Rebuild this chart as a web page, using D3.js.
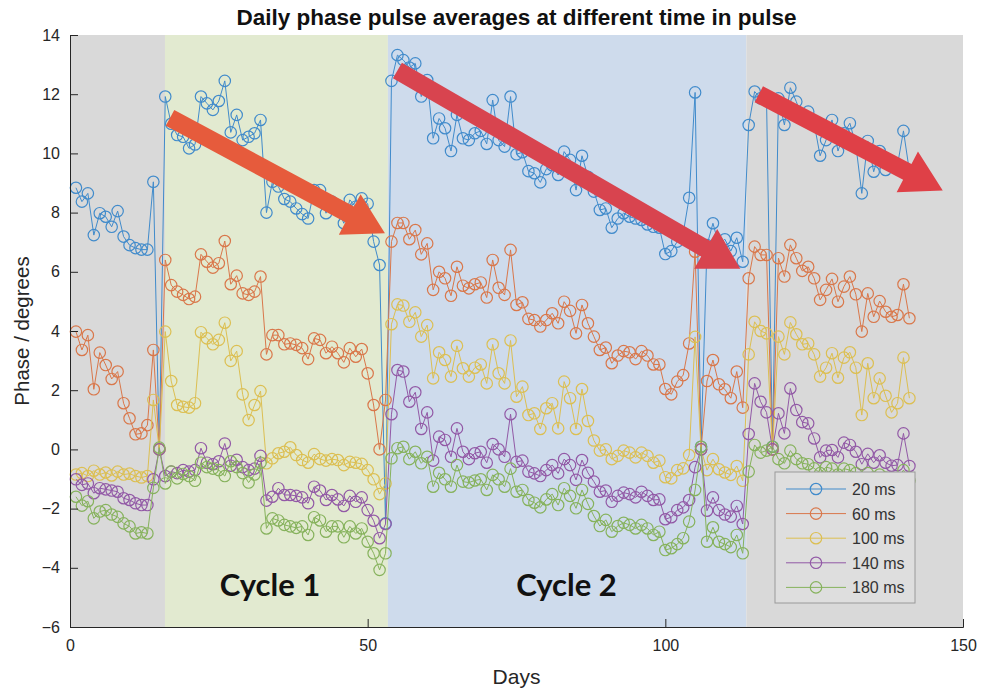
<!DOCTYPE html>
<html>
<head>
<meta charset="utf-8">
<script src="https://cdn.jsdelivr.net/npm/d3@7"></script>
<style>
  body { margin: 0; background: #fff; }
  svg { display: block; font-family: "Liberation Sans", Arial, sans-serif; }
</style>
</head>
<body>
<div id="chart"></div>
<script>
// day index of each daily average
const days = d3.range(1, 142);

const ms20 = [8.84, 8.37, 8.65, 7.24, 7.98, 7.86, 7.52, 8.05, 7.19, 6.9,
  6.8, 6.75, 6.75, 9.04, 0.0, 11.92, 11.0, 10.62, 10.56, 10.17,
  10.3, 11.92, 11.69, 11.47, 11.77, 12.45, 10.71, 11.3, 10.45, 10.56,
  10.68, 11.13, 8.0, 9.04, 8.88, 8.46, 8.37, 8.14, 7.95, 7.8,
  8.76, 8.76, 7.98, 8.37, 8.1, 7.64, 8.43, 8.2, 8.48, 8.3,
  7.02, 6.23, -2.5, 12.45, 13.32, 13.15, 12.9, 13.04, 11.92, 12.48,
  10.51, 11.18, 10.85, 10.08, 11.3, 10.51, 10.45, 10.68, 10.76, 10.32,
  11.8, 10.45, 10.23, 11.92, 9.97, 10.04, 9.4, 9.33, 9.02, 9.47,
  9.6, 9.27, 10.06, 9.78, 8.76, 9.92, 9.21, 8.71, 8.09, 8.14,
  7.49, 7.8, 7.98, 7.86, 7.8, 7.75, 7.6, 7.52, 7.49, 6.6,
  6.7, 7.02, 7.3, 8.5, 12.06, 0.09, 6.9, 7.64, 6.9, 7.1,
  6.7, 7.15, 6.34, 10.96, 12.09, 11.86, 11.8, 0.09, 11.86, 10.96,
  12.22, 11.75, 11.19, 11.41, 11.0, 9.92, 10.45, 11.13, 10.08, 10.68,
  11.02, 10.28, 8.65, 10.42, 9.38, 10.08, 9.44, 9.7, 9.61, 10.76, 9.4];

const ms60 = [3.98, 3.36, 3.86, 2.03, 3.27, 2.85, 2.38, 2.63, 1.56, 1.05,
  0.51, 0.54, 0.82, 3.36, 0.0, 6.4, 5.55, 5.33, 5.22, 5.08,
  5.16, 6.59, 6.34, 6.14, 6.29, 7.04, 5.58, 5.87, 5.27, 5.22,
  5.33, 5.84, 3.21, 3.86, 3.86, 3.55, 3.58, 3.53, 3.42, 3.05,
  3.75, 3.7, 3.25, 3.47, 3.25, 2.94, 3.42, 3.13, 3.39, 2.57,
  1.5, 0.0, 1.67, 7.02, 7.65, 7.65, 7.1, 7.41, 6.59, 6.96,
  5.39, 6.0, 5.78, 5.19, 6.17, 5.53, 5.44, 5.58, 5.64, 5.13,
  6.4, 5.46, 5.22, 6.74, 4.88, 4.97, 4.41, 4.37, 4.15, 4.37,
  4.6, 4.26, 4.99, 4.68, 3.92, 4.88, 4.26, 3.81, 3.36, 3.44,
  2.91, 3.17, 3.32, 3.28, 3.05, 3.32, 3.17, 2.87, 2.87, 2.04,
  1.86, 2.29, 2.51, 3.58, 6.68, 0.0, 2.31, 3.02, 2.2, 2.03,
  1.73, 2.63, 1.41, 5.78, 6.85, 6.57, 6.57, 0.0, 6.46, 5.84,
  6.91, 6.46, 6.03, 6.17, 5.78, 5.05, 5.39, 5.76, 4.99, 5.5,
  5.84, 5.24, 3.98, 5.27, 4.48, 5.01, 4.65, 4.48, 4.54, 5.58, 4.43];

const ms100 = [-0.85, -0.8, -0.9, -0.72, -0.85, -0.78, -0.88, -0.75, -0.85, -0.82,
  -0.9, -0.95, -0.9, 1.67, 0.0, 3.98, 2.31, 1.5, 1.44, 1.41,
  1.56, 3.96, 3.75, 3.55, 3.7, 4.28, 2.99, 3.32, 1.86, 0.99,
  1.5, 1.97, -0.47, -0.3, -0.13, -0.08, 0.07, -0.19, -0.36, -0.45,
  -0.16, -0.33, -0.38, -0.33, -0.36, -0.53, -0.42, -0.45, -0.49, -0.7,
  -1.01, -1.51, -1.15, 4.23, 4.9, 4.86, 4.31, 4.63, 3.81, 4.2,
  2.4, 3.28, 3.02, 2.46, 3.5, 2.74, 2.46, 2.76, 2.87, 2.23,
  3.55, 2.57, 2.23, 3.68, 1.78, 2.12, 1.16, 1.22, 0.69, 1.39,
  1.56, 0.71, 2.29, 1.73, 0.69, 2.04, 0.96, 0.3, -0.04, 0.0,
  -0.33, -0.22, -0.04, -0.11, -0.27, -0.11, -0.22, -0.45, -0.38, -0.94,
  -0.98, -0.7, -0.64, -0.19, 3.8, 0.0, -0.7, -0.33, -0.67, -0.78,
  -0.86, -0.56, -1.06, 3.21, 4.31, 4.0, 3.92, 0.0, 3.81, 3.21,
  4.29, 3.89, 3.55, 3.58, 3.21, 2.46, 2.76, 3.25, 2.42, 3.1,
  3.28, 2.76, 1.16, 2.91, 1.73, 2.4, 1.81, 1.25, 1.56, 3.1, 1.73];

const ms140 = [-1.01, -1.2, -1.15, -1.48, -1.31, -1.35, -1.39, -1.43, -1.65, -1.71,
  -1.82, -1.88, -1.88, -1.01, 0.0, -0.9, -0.75, -0.8, -0.7, -0.75,
  -0.7, 0.04, -0.45, -0.5, -0.4, 0.2, -0.55, -0.35, -0.6, -0.7,
  -0.65, -0.22, -1.73, -1.6, -1.31, -1.54, -1.54, -1.57, -1.62, -1.82,
  -1.26, -1.39, -1.71, -1.54, -1.69, -1.91, -1.57, -1.77, -1.62, -2.05,
  -2.41, -3.0, -2.52, 1.19, 2.68, 2.63, 1.61, 1.93, 0.69, 1.25,
  -0.38, 0.43, 0.32, -0.25, 0.71, -0.08, -0.33, -0.13, -0.08, -0.45,
  0.18, 0.0, -0.25, 1.19, -0.42, -0.38, -0.75, -0.81, -0.9, -0.7,
  -0.53, -0.81, -0.33, -0.53, -1.03, -0.36, -0.79, -1.09, -1.43, -1.39,
  -1.77, -1.57, -1.46, -1.51, -1.62, -1.43, -1.57, -1.71, -1.69, -2.36,
  -2.29, -2.05, -1.96, -1.71, -0.6, 0.0, -2.07, -1.62, -2.05, -2.2,
  -2.27, -1.91, -2.52, 0.52, 2.23, 1.61, 1.25, 0.0, 1.22, 0.54,
  2.06, 1.33, 0.92, 0.88, 0.37, -0.27, -0.04, -0.02, -0.27, 0.23,
  0.15, -0.08, -0.5, -0.15, -0.45, -0.2, -0.45, -0.55, -0.53, 0.54, -0.56];

const ms180 = [-1.6, -1.9, -1.75, -2.33, -2.1, -2.05, -2.2, -2.28, -2.5, -2.6,
  -2.84, -2.8, -2.84, -1.3, 0.06, -1.15, -0.75, -0.98, -0.83, -0.9,
  -1.06, -0.45, -0.6, -0.65, -0.7, -0.9, -0.4, -0.6, -0.8, -1.12,
  -0.85, -0.45, -2.67, -2.33, -2.4, -2.55, -2.6, -2.65, -2.6, -2.89,
  -2.29, -2.4, -2.78, -2.6, -2.6, -2.97, -2.6, -2.84, -2.67, -3.12,
  -3.51, -4.07, -3.51, -0.3, 0.04, 0.09, -0.33, -0.08, -0.47, -0.25,
  -1.26, -0.79, -1.01, -1.26, -0.53, -1.09, -1.12, -1.05, -1.01, -1.37,
  -0.86, -1.01, -1.26, -0.65, -1.43, -1.37, -1.71, -1.8, -1.96, -1.69,
  -1.51, -1.88, -1.31, -1.57, -1.99, -1.37, -1.84, -2.25, -2.59, -2.38,
  -2.78, -2.59, -2.48, -2.55, -2.67, -2.55, -2.67, -2.89, -2.78, -3.4,
  -3.34, -3.2, -3.0, -2.44, -1.37, 0.09, -3.12, -2.63, -3.12, -3.2,
  -3.3, -2.89, -3.51, -0.75, 0.15, -0.11, -0.04, 0.09, -0.33, -0.47,
  -0.04, -0.33, -0.47, -0.5, -0.64, -0.8, -0.6, -0.65, -0.85, -0.65,
  -0.7, -0.8, -1.0, -0.8, -0.95, -0.85, -0.95, -1.05, -1.0, -0.7, -1.05];

const seriesNames = ["20 ms", "60 ms", "100 ms", "140 ms", "180 ms"];
const seriesColors = ["#418bcb", "#d9774a", "#dcbf52", "#9259a6", "#86b25c"];

// shaded periods (days)
const bandStarts = [0, 15.95, 53.4, 113.6];
const bandEnds = [15.95, 53.4, 113.6, 150];
const bandColors = ["#d9d9d9", "#e2ead0", "#cedbec", "#d9d9d9"];

const cycleLabels = ["Cycle 1", "Cycle 2"];
const cycleDays = [33.6, 83.4];

// trend arrows: [day, value] at tail and at tip
const arrowStart = [[16.8, 11.2], [55.0, 12.8], [115.7, 12.0]];
const arrowEnd = [[52.9, 7.3], [112.6, 6.1], [146.6, 8.75]];
const arrowColors = ["#e65b3c", "#d8444f", "#df4047"];

const xTicks = [0, 50, 100, 150];
const yTicks = [-6, -4, -2, 0, 2, 4, 6, 8, 10, 12, 14];

const W = 983, H = 691;
const mg = { left: 70, right: 20, top: 35, bottom: 64 };

const svg = d3.select('#chart').append('svg')
  .attr('width', W)
  .attr('height', H);

const x = d3.scaleLinear().domain([0, 150]).range([mg.left, W - mg.right]);
const y = d3.scaleLinear().domain([-6, 14]).range([H - mg.bottom, mg.top]);

// background bands
svg.selectAll('.band')
  .data(bandStarts)
  .enter().append('rect')
  .attr('class', 'band')
  .attr('x', (d) => x(d))
  .attr('y', y(14))
  .attr('width', (d, i) => x(bandEnds[i]) - x(d))
  .attr('height', y(-6) - y(14))
  .style('fill', (d, i) => bandColors[i]);

// series
const allSeries = [ms20, ms60, ms100, ms140, ms180];
const line = d3.line()
  .x((d, i) => x(days[i]))
  .y((d) => y(d));

allSeries.forEach((vals, s) => {
  const g = svg.append('g').attr('class', 'series');
  g.append('path')
    .attr('d', line(vals))
    .style('fill', 'none')
    .style('stroke', seriesColors[s])
    .style('stroke-width', 1);
  g.selectAll('circle')
    .data(vals)
    .enter().append('circle')
    .attr('cx', (d, i) => x(days[i]))
    .attr('cy', (d) => y(d))
    .attr('r', 5.7)
    .style('fill', 'none')
    .style('stroke', seriesColors[s])
    .style('stroke-width', 1.2);
});

// arrows
function arrowPath (p0, p1) {
  const x0 = x(p0[0]), y0 = y(p0[1]), x1 = x(p1[0]), y1 = y(p1[1]);
  const len = Math.hypot(x1 - x0, y1 - y0);
  const ux = (x1 - x0) / len, uy = (y1 - y0) / len;
  const nx = -uy, ny = ux;
  const sw = 9, hw = 23, hl = 40;
  const bx = x1 - ux * hl, by = y1 - uy * hl;
  const pts = [
    [x0 + nx * sw, y0 + ny * sw],
    [bx + nx * sw, by + ny * sw],
    [bx + nx * hw, by + ny * hw],
    [x1, y1],
    [bx - nx * hw, by - ny * hw],
    [bx - nx * sw, by - ny * sw],
    [x0 - nx * sw, y0 - ny * sw]
  ];
  return 'M' + pts.map((p) => p.join(',')).join('L') + 'Z';
}

svg.selectAll('.arrow')
  .data(arrowStart)
  .enter().append('path')
  .attr('class', 'arrow')
  .attr('d', (d, i) => arrowPath(d, arrowEnd[i]))
  .style('fill', (d, i) => arrowColors[i]);

// cycle labels
svg.selectAll('.cycle')
  .data(cycleLabels)
  .enter().append('text')
  .attr('class', 'cycle')
  .attr('x', (d, i) => x(cycleDays[i]))
  .attr('y', y(-4.95))
  .text((d) => d)
  .style('text-anchor', 'middle')
  .style('font-family', 'Lato, "Open Sans", sans-serif')
  .style('font-weight', 'bold')
  .style('font-size', '31px')
  .style('fill', '#111');

// axes
const xAxis = d3.axisBottom(x).tickValues(xTicks).tickSize(-8).tickPadding(13);
const yAxis = d3.axisLeft(y).tickValues(yTicks).tickSize(-8).tickPadding(10);

const gx = svg.append('g')
  .attr('transform', `translate(0,${y(-6)})`)
  .call(xAxis);
const gy = svg.append('g')
  .attr('transform', `translate(${x(0)},0)`)
  .call(yAxis);

[gx, gy].forEach((g) => {
  g.select('.domain').style('stroke', '#262626');
  g.selectAll('.tick line').style('stroke', '#262626');
  g.selectAll('.tick text')
    .style('font-size', '16px')
    .style('font-family', '"Liberation Sans", Arial, sans-serif')
    .style('fill', '#262626');
});

// titles
svg.append('text')
  .attr('x', (x(0) + x(150)) / 2)
  .attr('y', 25)
  .text('Daily phase pulse averages at different time in pulse')
  .style('text-anchor', 'middle')
  .style('font-family', '"Liberation Sans", Arial, sans-serif')
  .style('font-weight', 'bold')
  .style('font-size', '22.5px')
  .style('fill', '#111');

svg.append('text')
  .attr('x', (x(0) + x(150)) / 2)
  .attr('y', 684)
  .text('Days')
  .style('text-anchor', 'middle')
  .style('font-size', '21px')
  .style('fill', '#262626');

svg.append('text')
  .attr('transform', `translate(29,${(y(-6) + y(14)) / 2}) rotate(-90)`)
  .text('Phase / degrees')
  .style('text-anchor', 'middle')
  .style('font-size', '20.5px')
  .style('fill', '#262626');

// legend
const lg = svg.append('g').attr('transform', 'translate(775,472)');
lg.append('rect')
  .attr('width', 140)
  .attr('height', 131)
  .style('fill', '#dedede')
  .style('stroke', '#9a9a9a')
  .style('stroke-width', 1);

const rows = lg.selectAll('.lrow')
  .data(seriesNames)
  .enter().append('g')
  .attr('class', 'lrow')
  .attr('transform', (d, i) => `translate(0,${17 + i * 24.6})`);

rows.append('line')
  .attr('x1', 11).attr('x2', 71)
  .style('stroke', (d, i) => seriesColors[i])
  .style('stroke-width', 1);
rows.append('circle')
  .attr('cx', 41)
  .attr('r', 5.7)
  .style('fill', 'none')
  .style('stroke', (d, i) => seriesColors[i])
  .style('stroke-width', 1.2);
rows.append('text')
  .attr('x', 77)
  .attr('y', 6)
  .text((d) => d)
  .style('font-size', '16px')
  .style('fill', '#333');
</script>
</body>
</html>
